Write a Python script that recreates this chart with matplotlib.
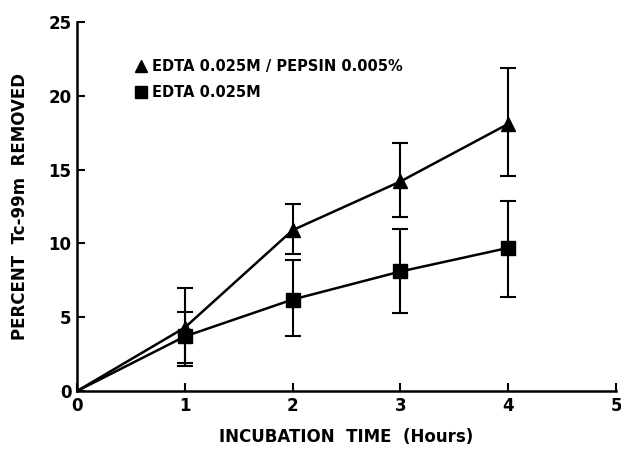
import matplotlib
matplotlib.use('Agg')
import matplotlib.pyplot as plt
from matplotlib.lines import Line2D

# Data
hours = [0, 1, 2, 3, 4]
pepsin_mean = [0, 4.3, 10.9, 14.2, 18.1]
pepsin_lo = [0, 1.7, 9.3, 11.8, 14.6]
pepsin_hi = [0, 7.0, 12.7, 16.8, 21.9]
edta_mean = [0, 3.7, 6.2, 8.1, 9.7]
edta_lo = [0, 1.9, 3.7, 5.3, 6.4]
edta_hi = [0, 5.35, 8.9, 11.0, 12.9]

x_ticks = [0, 1, 2, 3, 4, 5]
y_ticks = [0, 5, 10, 15, 20, 25]
labels = ['EDTA 0.025M / PEPSIN 0.005%', 'EDTA 0.025M']

plt.rcParams['font.family'] = 'DejaVu Sans'
plt.rcParams['font.weight'] = 'bold'

fig = plt.figure(figsize=(6.21, 4.5), dpi=100)
ax = fig.add_axes([0.124, 0.131, 0.868, 0.82])


def err(mean, lo, hi):
    return [[m - l for m, l in zip(mean, lo)], [h - m for m, h in zip(mean, hi)]]


# skip the origin point for the error bars / markers
ax.plot(hours, pepsin_mean, color='black', lw=1.8)
ax.plot(hours, edta_mean, color='black', lw=1.8)
ax.errorbar(hours[1:], pepsin_mean[1:], yerr=[e[1:] for e in err(pepsin_mean, pepsin_lo, pepsin_hi)],
            fmt='^', color='black', ms=10, capsize=6, capthick=1.5, elinewidth=1.5)
ax.errorbar(hours[1:], edta_mean[1:], yerr=[e[1:] for e in err(edta_mean, edta_lo, edta_hi)],
            fmt='s', color='black', ms=10, capsize=6, capthick=1.5, elinewidth=1.5)

ax.set_xlim(0, 5)
ax.set_ylim(0, 25)
ax.set_xticks(x_ticks)
ax.set_yticks(y_ticks)
ax.spines['top'].set_visible(False)
ax.spines['right'].set_visible(False)
for s in ('left', 'bottom'):
    ax.spines[s].set_linewidth(1.8)
ax.tick_params(direction='in', length=6, width=1.5, labelsize=12, pad=4)
for t in ax.get_xticklabels() + ax.get_yticklabels():
    t.set_fontweight('bold')

ax.set_xlabel('INCUBATION  TIME  (Hours)', fontsize=12, fontweight='bold', labelpad=10)
ax.set_ylabel('PERCENT  Tc-99m  REMOVED', fontsize=12, fontweight='bold', labelpad=14)

handles = [Line2D([], [], marker='^', color='black', ls='none', ms=9),
           Line2D([], [], marker='s', color='black', ls='none', ms=8)]
ax.legend(handles, labels, loc='upper left', bbox_to_anchor=(0.08, 0.935), frameon=False,
          prop={'size': 10.5, 'weight': 'bold'}, handletextpad=0.3, handlelength=1.0,
          labelspacing=0.75)

plt.savefig('out.png', dpi=100)
